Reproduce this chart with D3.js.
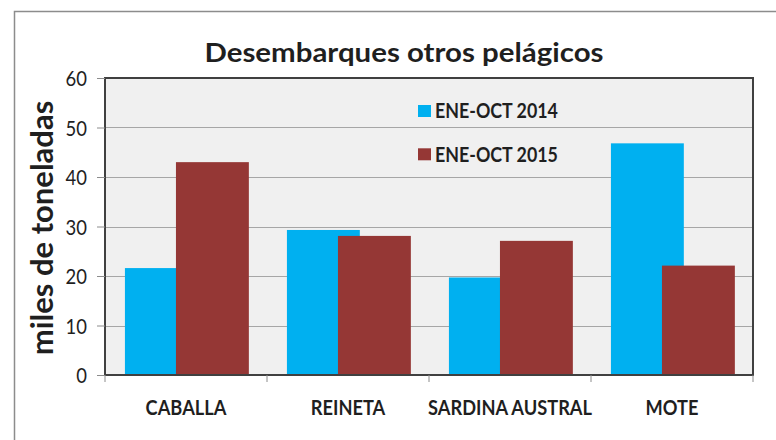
<!DOCTYPE html>
<html lang="es">
<head>
  <meta charset="UTF-8" />
  <title>Desembarques otros pelágicos</title>
  <script src="https://d3js.org/d3.v7.min.js"></script>
  <style>
    body {
      margin: 0;
      padding: 0;
      background: #fff;
    }
    svg {
      display: block;
      font-family: Lato, "Open Sans", sans-serif;
    }
    .grid line {
      stroke: #a6a6a6;
      stroke-width: 1px;
    }
    text {
      fill: #1f1f1f;
    }
  </style>
</head>
<body>
  <svg width="776" height="440"></svg>

  <script>
    // datos
    const especies = ["CABALLA", "REINETA", "SARDINA AUSTRAL", "MOTE"];
    const series = ["ENE-OCT 2014", "ENE-OCT 2015"];
    const valores2014 = [21.6, 29.3, 19.7, 46.8];
    const valores2015 = [43.0, 28.1, 27.1, 22.1];
    const ticksY = [0, 10, 20, 30, 40, 50, 60];
    const colores = ["#00b0f0", "#953735"];

    const svg = d3.select("svg");
    const margin = { left: 105, right: 23, top: 78, bottom: 65 };
    const ancho = 776 - margin.left - margin.right;
    const alto = 440 - margin.top - margin.bottom;
    const angosto = 0.87; // el texto original es mas estrecho

    // marco exterior
    svg.append("rect")
      .attr("x", 14.5)
      .attr("y", 11.5)
      .attr("width", 800)
      .attr("height", 500)
      .attr("fill", "#fff")
      .attr("stroke", "#8c8c8c")
      .attr("stroke-width", 1.5);

    const g = svg.append("g").attr("transform", `translate(${margin.left},${margin.top})`);

    const x = d3.scaleBand().domain(especies).range([0, ancho]);
    const y = d3.scaleLinear().domain([0, 60]).range([alto, 0]);

    g.append("rect")
      .attr("width", ancho)
      .attr("height", alto)
      .attr("fill", "#f0f0f0");

    g.append("g")
      .attr("class", "grid")
      .selectAll("line")
      .data(ticksY.filter((t) => t > 0 && t < 60))
      .enter()
      .append("line")
      .attr("x1", 0)
      .attr("x2", ancho)
      .attr("y1", (d) => Math.round(y(d)) + 0.5)
      .attr("y2", (d) => Math.round(y(d)) + 0.5);

    // barras, la segunda serie se solapa con la primera
    const anchoBarra = x.bandwidth() * 0.45;
    const offset = x.bandwidth() * 0.123;
    const paso = x.bandwidth() * 0.315;

    [valores2014, valores2015].forEach((vals, i) => {
      g.append("g")
        .selectAll("rect")
        .data(vals)
        .enter()
        .append("rect")
        .attr("x", (d, j) => x(especies[j]) + offset + i * paso)
        .attr("y", (d) => y(d))
        .attr("width", anchoBarra)
        .attr("height", (d) => alto - y(d))
        .attr("fill", colores[i]);
    });

    // marco del area de grafico
    g.append("rect")
      .attr("width", ancho)
      .attr("height", alto)
      .attr("fill", "none")
      .attr("stroke", "#404040")
      .attr("stroke-width", 2);

    // eje y
    const ejeY = g.append("g")
      .call(d3.axisLeft(y).tickValues(ticksY).tickSize(8).tickPadding(10));
    ejeY.select(".domain").remove();
    ejeY.selectAll("line").attr("stroke", "#8c8c8c");
    ejeY.selectAll("text")
      .attr("font-size", 22)
      .attr("font-family", "Lato, sans-serif")
      .attr("transform", "scale(0.84,1)")
      .attr("x", -18 / 0.84)
      .attr("dy", "0.36em");

    // eje x
    const ejeX = g.append("g")
      .attr("transform", `translate(0,${alto})`)
      .call(d3.axisBottom(x).tickSize(0));
    ejeX.select(".domain").remove();
    ejeX.selectAll("text")
      .attr("font-size", 20.5)
      .attr("font-weight", "bold")
      .attr("font-family", "Lato, sans-serif")
      .attr("transform", "scale(0.89,1)")
      .attr("y", 40)
      .attr("dy", 0);

    g.append("g")
      .selectAll("line")
      .data(especies.map((e) => x(e)).concat([ancho]))
      .enter()
      .append("line")
      .attr("x1", (d) => d)
      .attr("x2", (d) => d)
      .attr("y1", alto)
      .attr("y2", alto + 7)
      .attr("stroke", "#8c8c8c");

    // titulos
    svg.append("text")
      .attr("transform", "translate(404,61.5) scale(1.09,1)")
      .attr("text-anchor", "middle")
      .attr("font-size", 27)
      .attr("font-weight", "bold")
      .text("Desembarques otros pelágicos");

    svg.append("text")
      .attr("transform", "translate(53,228) rotate(-90)")
      .attr("text-anchor", "middle")
      .attr("font-size", 31)
      .attr("font-weight", "bold")
      .text("miles de toneladas");

    // leyenda
    const leyenda = svg.append("g").attr("transform", "translate(418,105)");
    series.forEach((s, i) => {
      leyenda.append("rect")
        .attr("x", 0)
        .attr("y", i * 43.3)
        .attr("width", 13)
        .attr("height", 12)
        .attr("fill", colores[i]);
      leyenda.append("text")
        .attr("transform", `translate(17,${i * 43.3 + 13.3}) scale(${angosto},1)`)
        .attr("font-size", 20.5)
        .attr("font-weight", "bold")
        .text(s);
    });
  </script>
</body>
</html>
